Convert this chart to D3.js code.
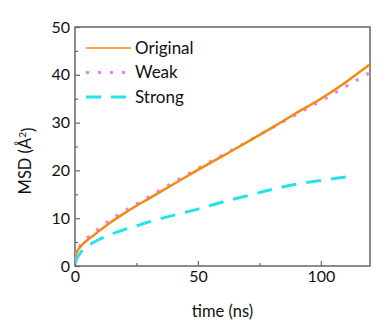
<!DOCTYPE html>
<html>
<head>
<meta charset="utf-8">
<script src="https://cdn.jsdelivr.net/npm/d3@7"></script>
<style>
  html, body { margin: 0; padding: 0; background: #fff; }
  svg { display: block; font-family: Lato, "Open Sans", sans-serif; }
</style>
</head>
<body>
<svg id="chart" width="387" height="325"></svg>
<script>
// MSD curves for the three coupling cases
const originalTime = [0, 1, 2, 3, 5, 7, 10, 15, 20, 25, 30, 40, 50, 60, 70, 80, 90, 100, 110, 120];
const originalMsd  = [2.0, 3.2, 3.9, 4.5, 5.4, 6.2, 7.4, 9.3, 11.0, 12.6, 14.1, 17.1, 20.1, 23.0, 25.9, 28.9, 32.0, 35.0, 38.4, 42.2];

const weakTime = [0, 2, 5, 10, 15, 20, 25, 30, 40, 50, 60, 70, 80, 90, 100, 110, 120];
const weakMsd  = [1.6, 4.2, 5.9, 8.0, 9.9, 11.5, 13.0, 14.5, 17.5, 20.4, 23.2, 26.0, 28.9, 31.7, 34.5, 37.5, 40.5];

const strongTime = [0, 1, 2, 3, 5, 7, 10, 15, 20, 25, 30, 40, 50, 60, 70, 80, 90, 100, 111];
const strongMsd  = [0.6, 1.8, 2.6, 3.3, 4.2, 4.8, 5.6, 6.7, 7.6, 8.4, 9.2, 10.6, 11.9, 13.4, 14.7, 16.0, 17.1, 17.9, 18.7];

const seriesNames = ["Original", "Weak", "Strong"];
const xTicks = [0, 50, 100];
const yTicks = [0, 10, 20, 30, 40, 50];

const svg = d3.select("#chart");
const margin = { left: 75, top: 27, right: 17, bottom: 59 };
const W = 387, H = 325;
const iw = W - margin.left - margin.right;
const ih = H - margin.top - margin.bottom;

const x = d3.scaleLinear().domain([0, 120]).range([0, iw]);
const y = d3.scaleLinear().domain([0, 50]).range([ih, 0]);

const g = svg.append("g").attr("transform", `translate(${margin.left},${margin.top})`);
const axisColor = "#666";

// minor ticks (inward)
const xMinor = d3.axisBottom(x).tickValues([25, 75]).tickSize(-3).tickFormat("");
const yMinor = d3.axisLeft(y).tickValues([5, 15, 25, 35, 45]).tickSize(-3).tickFormat("");
g.append("g").attr("transform", `translate(0,${ih})`).call(xMinor);
g.append("g").call(yMinor);

// major ticks (inward)
const xAxis = d3.axisBottom(x).tickValues(xTicks).tickSize(-5).tickPadding(5);
const yAxis = d3.axisLeft(y).tickValues(yTicks).tickSize(-5).tickPadding(5);
g.append("g").attr("class", "xa").attr("transform", `translate(0,${ih})`).call(xAxis);
g.append("g").attr("class", "ya").call(yAxis);

g.selectAll(".domain").remove();
g.selectAll(".tick line").attr("stroke", axisColor).attr("stroke-width", 1.2);
g.selectAll(".tick text").attr("fill", "#111").style("font-size", "16px").style("font-family", "Lato, sans-serif");

// frame
g.append("rect").attr("x", 0).attr("y", 0).attr("width", iw).attr("height", ih)
  .attr("fill", "none").attr("stroke", axisColor).attr("stroke-width", 1.5);

const line = d3.line().x(d => x(d[0])).y(d => y(d[1])).curve(d3.curveMonotoneX);

const styles = {
  Original: { color: "#f28a10", width: 2.5, dash: null },
  Weak:     { color: "#f07cf0", width: 3,   dash: "3,9" },
  Strong:   { color: "#22e3ea", width: 3,   dash: "15,10" }
};
const series = [
  { name: "Original", t: originalTime, v: originalMsd },
  { name: "Weak", t: weakTime, v: weakMsd },
  { name: "Strong", t: strongTime, v: strongMsd }
];

g.append("clipPath").attr("id", "clip").append("rect").attr("width", iw).attr("height", ih);

// draw order: weak dots under the solid original line, strong on top
["Strong", "Weak", "Original"].forEach(name => {
  const s = series.find(d => d.name === name);
  const st = styles[name];
  g.append("path")
    .datum(d3.zip(s.t, s.v))
    .attr("clip-path", "url(#clip)")
    .attr("fill", "none")
    .attr("stroke", st.color)
    .attr("stroke-width", st.width)
    .attr("stroke-dasharray", st.dash)
    .attr("d", line);
});

// legend
const legend = g.append("g").attr("transform", "translate(11,21)");
seriesNames.forEach((name, i) => {
  const st = styles[name];
  const row = legend.append("g").attr("transform", `translate(0,${i * 24.5})`);
  row.append("line").attr("x1", 0).attr("x2", 45).attr("y1", 0).attr("y2", 0)
    .attr("stroke", st.color).attr("stroke-width", name === "Original" ? 1.6 : st.width)
    .attr("stroke-dasharray", st.dash);
  row.append("text").attr("x", 49).attr("y", 0).attr("dy", "0.35em")
    .attr("fill", "#111").style("font-size", "17px").text(name);
});

// axis titles
svg.append("text")
  .attr("x", margin.left + x(60)).attr("y", 317)
  .attr("text-anchor", "middle").attr("fill", "#111").style("font-size", "16.5px")
  .text("time (ns)");

const yl = svg.append("text")
  .attr("transform", "translate(31,161) rotate(-90)")
  .attr("text-anchor", "middle").attr("fill", "#111").style("font-size", "16.5px");
yl.append("tspan").text("MSD (Å");
yl.append("tspan").attr("dy", "-0.5em").style("font-size", "10px").text("2");
yl.append("tspan").attr("dy", "0.5em").text(")");
</script>
</body>
</html>
